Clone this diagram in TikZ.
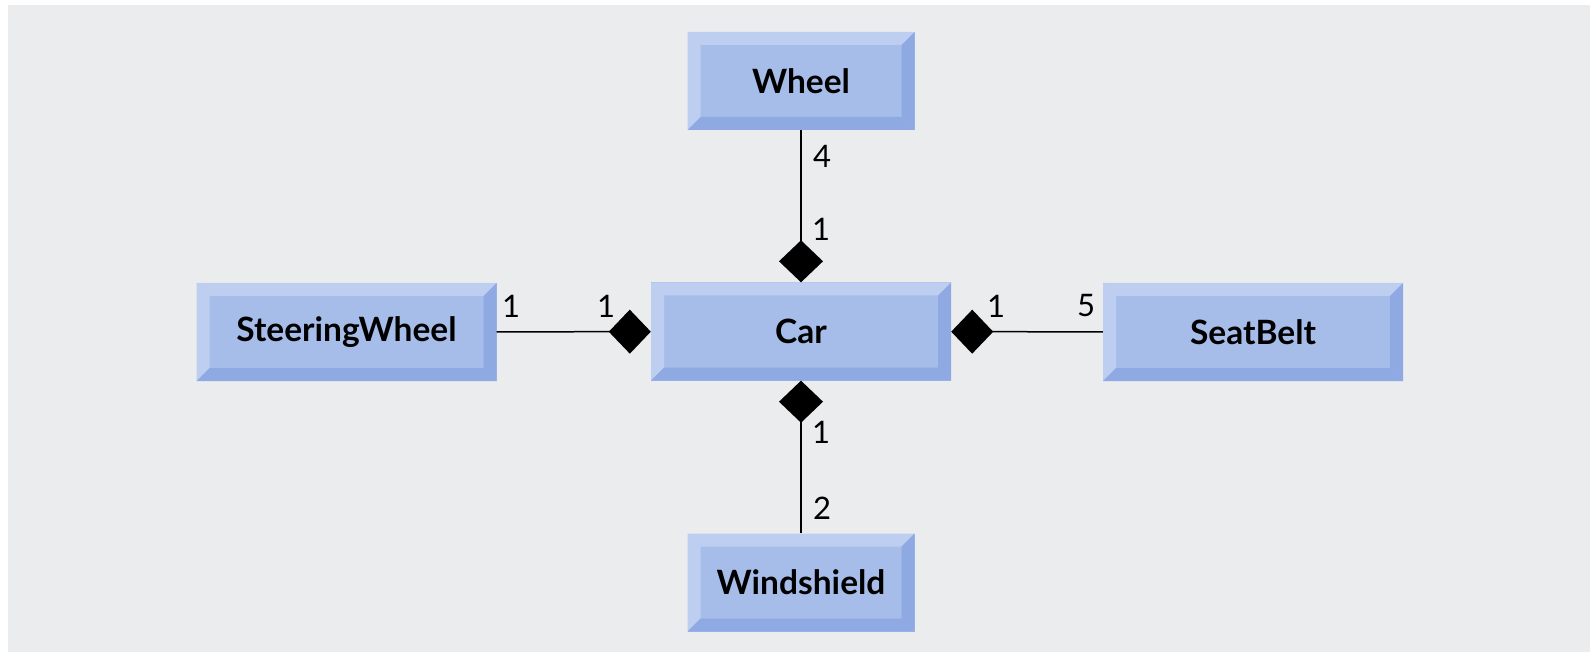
\documentclass[tikz,border=0pt]{standalone}
\usepackage{fontspec}
\setmainfont{Lato}
\usetikzlibrary{arrows.meta}
\definecolor{bg}{RGB}{235,236,237}
\definecolor{face}{RGB}{166,188,233}
\definecolor{lite}{RGB}{190,206,240}
\definecolor{dark}{RGB}{143,170,227}
\tikzset{
  umlbox/.style={minimum height=98pt, inner sep=0pt, fill=face,
    font=\fontsize{33.5}{40}\selectfont\bfseries,
    path picture={
      \fill[lite] (path picture bounding box.north west) -- (path picture bounding box.north east)
        -- ([xshift=-13pt,yshift=-13pt]path picture bounding box.north east)
        -- ([xshift=13pt,yshift=-13pt]path picture bounding box.north west) -- cycle;
      \fill[lite] (path picture bounding box.north west) -- (path picture bounding box.south west)
        -- ([xshift=13pt,yshift=13pt]path picture bounding box.south west)
        -- ([xshift=13pt,yshift=-13pt]path picture bounding box.north west) -- cycle;
      \fill[dark] (path picture bounding box.south west) -- (path picture bounding box.south east)
        -- ([xshift=-13pt,yshift=13pt]path picture bounding box.south east)
        -- ([xshift=13pt,yshift=13pt]path picture bounding box.south west) -- cycle;
      \fill[dark] (path picture bounding box.north east) -- (path picture bounding box.south east)
        -- ([xshift=-13pt,yshift=13pt]path picture bounding box.south east)
        -- ([xshift=-13pt,yshift=-13pt]path picture bounding box.north east) -- cycle;
    }},
  narrow/.style={umlbox, minimum width=227pt},
  wide/.style={umlbox, minimum width=300pt},
  comp/.style={line width=1.5pt, -{Diamond[length=42pt,width=44pt]}},
  mult/.style={inner sep=0pt, font=\fontsize{31}{36}\selectfont},
}
\begin{document}
\begin{tikzpicture}[x=1pt,y=-1pt]
\useasboundingbox (0,0) rectangle (1590,652);
\fill[white] (0,0) rectangle (1590,652);
\fill[bg] (8,5) rectangle (1590,652);

\node[narrow] (wheel) at (801,81) {Wheel};
\node[wide] (car) at (801,331.5) {Car};
\node[wide] (steer) at (346.5,332) {SteeringWheel};
\node[wide] (belt) at (1253,332) {SeatBelt};
\node[narrow] (wind) at (801,582.5) {Windshield};

\draw[comp] (wheel) -- (car);
\draw[comp] (steer) -- (car);
\draw[comp] (belt) -- (car);
\draw[comp] (wind) -- (car);

\node[mult] (m4) at (822,156) {4};
\node[mult] (m1t) at (821,229) {1};
\node[mult] (m1l) at (511,306) {1};
\node[mult] (m1c) at (606,306) {1};
\node[mult] (m1r) at (996,306) {1};
\node[mult] (m5) at (1086,306) {5};
\node[mult] (m1b) at (821,432) {1};
\node[mult] (m2) at (822,508) {2};
\end{tikzpicture}
\end{document}
